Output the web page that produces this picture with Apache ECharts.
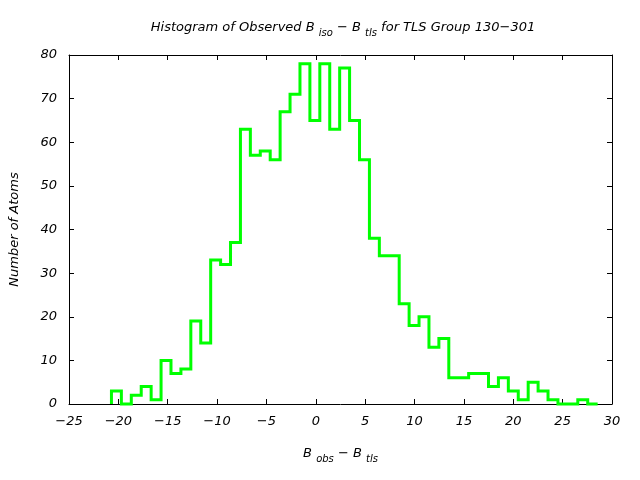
<!DOCTYPE html>
<html><head><meta charset="utf-8">
<script src="https://cdn.jsdelivr.net/npm/echarts@6/dist/echarts.min.js"></script>
<style>html,body{margin:0;padding:0;background:#fff}#c{width:640px;height:480px}</style>
</head><body><div id="c"></div>
<script>
// Histogram bins (B_obs - B_tls), regular bin width
var binStart = -20.7;
var binWidth = 1.005;
var counts = [3,0,2,4,1,10,7,8,19,14,33,32,37,63,57,58,56,67,71,78,65,78,63,77,65,56,38,34,34,23,18,20,13,15,6,6,7,7,4,6,3,1,5,3,1,0,0,1,0];
var xTicks = [-25,-20,-15,-10,-5,0,5,10,15,20,25,30];
var yTicks = [0,10,20,30,40,50,60,70,80];

var pts = [[binStart, 0]];
for (var i = 0; i < counts.length; i++) {
  var l = binStart + i * binWidth, r = l + binWidth;
  pts.push([l, counts[i]]);
  pts.push([r, counts[i]]);
}
var FONT = 'DejaVu Sans';
function fmt(v) { return String(v).replace('-', '\u2212'); }
var lab = {fontFamily: FONT, fontStyle: 'italic', fontSize: 13, color: '#000', formatter: fmt};
var subRich = {s: {fontFamily: FONT, fontStyle: 'italic', fontSize: 10, verticalAlign: 'bottom', lineHeight: 10, color: '#000'}};
var axLine = {show: true, onZero: false, lineStyle: {color: '#000', width: 1}};
var axTick = {show: true, inside: true, length: 5, lineStyle: {color: '#000'}};
var chart = echarts.init(document.getElementById('c'));
chart.setOption({
  animation: false,
  title: {
    text: 'Histogram of Observed B {s|iso} \u2212 B {s|tls} for TLS Group 130\u2212301',
    left: 338, textAlign: 'center', top: 13,
    textStyle: {fontFamily: FONT, fontStyle: 'italic', fontWeight: 'normal', fontSize: 13, color: '#000', lineHeight: 20, rich: subRich}
  },
  grid: {left: 67, right: 28, top: 55, bottom: 76},
  xAxis: [{
    type: 'value', min: -25, max: 30, interval: 5,
    name: 'B {s|obs} \u2212 B {s|tls}', nameLocation: 'middle', nameGap: 40,
    nameTextStyle: {fontFamily: FONT, fontStyle: 'italic', fontSize: 13, color: '#000', lineHeight: 20, rich: subRich},
    axisLine: axLine, axisTick: axTick,
    axisLabel: Object.assign({margin: 11}, lab),
    splitLine: {show: false}
  }, {
    type: 'value', min: -25, max: 30, interval: 5, position: 'top',
    axisLine: axLine, axisTick: axTick,
    axisLabel: {show: false}, splitLine: {show: false}
  }],
  yAxis: [{
    type: 'value', min: 0, max: 80, interval: 10,
    name: 'Number of Atoms', nameLocation: 'middle', nameGap: 48, nameRotate: 90,
    nameTextStyle: {fontFamily: FONT, fontStyle: 'italic', fontSize: 13, color: '#000'},
    axisLine: axLine, axisTick: axTick,
    axisLabel: Object.assign({margin: 12}, lab),
    splitLine: {show: false}
  }, {
    type: 'value', min: 0, max: 80, interval: 10, position: 'right',
    axisLine: axLine, axisTick: axTick,
    axisLabel: {show: false}, splitLine: {show: false}
  }],
  series: [{
    type: 'line', data: pts, showSymbol: false, symbol: 'none',
    lineStyle: {color: '#00ff00', width: 3, join: 'miter'},
    clip: false, z: 1
  }]
});
</script></body></html>
